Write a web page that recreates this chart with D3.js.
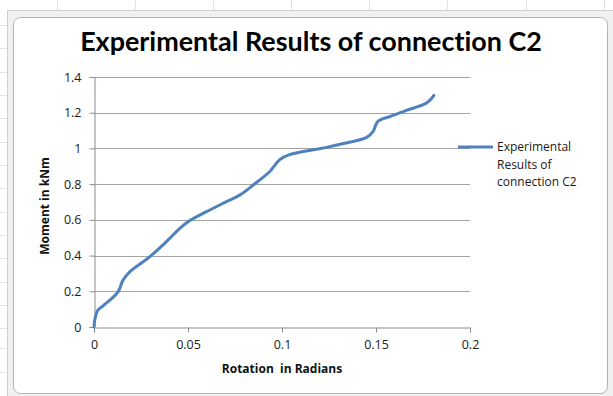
<!DOCTYPE html>
<html>
<head>
<meta charset="utf-8">
<script src="https://cdn.jsdelivr.net/npm/d3@7"></script>
<style>
  html, body { margin: 0; padding: 0; background: #ffffff; }
  svg { display: block; }
  text { font-variant-ligatures: none; }
</style>
</head>
<body>
<svg id="chart" width="613" height="396"></svg>
<script>
// Measured moment–rotation response of connection C2
const rotation = [0, 0.0004, 0.002, 0.005, 0.0128, 0.0154, 0.019, 0.0296, 0.0385, 0.0447,
                  0.05, 0.0598, 0.0705, 0.0777, 0.0847, 0.0935, 0.0988, 0.104, 0.1218,
                  0.134, 0.145, 0.1485, 0.151, 0.1577, 0.1665, 0.1763, 0.179, 0.1808];
const moment = [0, 0.038, 0.094, 0.12, 0.197, 0.262, 0.309, 0.393, 0.478, 0.543,
                0.590, 0.646, 0.702, 0.740, 0.795, 0.871, 0.937, 0.965, 1.002,
                1.030, 1.062, 1.096, 1.152, 1.18, 1.214, 1.251, 1.273, 1.297];
const xTicks = [0, 0.05, 0.1, 0.15, 0.2];
const yTicks = [0, 0.2, 0.4, 0.6, 0.8, 1, 1.2, 1.4];
const seriesName = ["Experimental", "Results of", "connection C2"];

const svg = d3.select("#chart");
const font = "'Open Sans', 'DejaVu Sans', sans-serif";

// worksheet grid peeking out around the chart object
const sheet = svg.append("g").attr("stroke", "#e2e2e2").attr("stroke-width", 1);
[57, 135, 213, 291, 369, 447, 526, 604].forEach(x =>
  sheet.append("line").attr("x1", x + 0.5).attr("x2", x + 0.5).attr("y1", 0).attr("y2", 10));
[25, 48, 72, 95, 118, 142, 165, 188, 212, 235, 258, 282, 305, 328, 348, 372].forEach(y =>
  sheet.append("line").attr("x1", 0).attr("x2", 7).attr("y1", y + 0.5).attr("y2", y + 0.5));

// chart object frame
svg.append("rect").attr("x", 7.5).attr("y", 10.5).attr("width", 610).attr("height", 390)
  .attr("fill", "#f0f0f0").attr("stroke", "#cfcfcf");
svg.append("rect").attr("x", 13.5).attr("y", 17.5).attr("width", 594).attr("height", 376)
  .attr("rx", 7).attr("fill", "#ffffff").attr("stroke", "#b4b4b4");

// plot area
const x = d3.scaleLinear().domain([0, 0.2]).range([94, 470]);
const y = d3.scaleLinear().domain([0, 1.4]).range([327, 77]);

// horizontal gridlines
svg.append("g")
  .selectAll("line").data(yTicks.filter(d => d > 0)).join("line")
  .attr("x1", x(0)).attr("x2", x(0.2))
  .attr("y1", d => Math.round(y(d)) + 0.5).attr("y2", d => Math.round(y(d)) + 0.5)
  .attr("stroke", "#a3a3a3").attr("stroke-width", 1);

// axes
const xAxis = svg.append("g")
  .attr("transform", `translate(0,${Math.round(y(0)) + 0.5})`)
  .call(d3.axisBottom(x).tickValues(xTicks).tickSize(5).tickPadding(8)
    .tickFormat(d => d3.format("~g")(d)));
const yAxis = svg.append("g")
  .attr("transform", `translate(${Math.round(x(0)) + 0.5},0)`)
  .call(d3.axisLeft(y).tickValues(yTicks).tickSize(5).tickPadding(8)
    .tickFormat(d => d3.format("~g")(d)));

[xAxis, yAxis].forEach(g => {
  g.select(".domain").attr("stroke", "#8c8c8c");
  g.selectAll(".tick line").attr("stroke", "#8c8c8c");
  g.selectAll(".tick text").attr("fill", "#1a1a1a")
    .style("font-family", font).style("font-size", "12.5px");
});

// data line
const line = d3.line()
  .x((d, i) => x(rotation[i]))
  .y(d => y(d))
  .curve(d3.curveCatmullRom.alpha(0.5));
svg.append("path").datum(moment)
  .attr("d", line)
  .attr("fill", "none")
  .attr("stroke", "#4f81bd")
  .attr("stroke-width", 3)
  .attr("stroke-linecap", "round")
  .attr("stroke-linejoin", "round");

// title, sized to its measured span
const title = svg.append("text")
  .attr("x", 311).attr("y", 51)
  .attr("text-anchor", "middle")
  .style("font-family", "Lato, 'Open Sans', sans-serif")
  .style("font-weight", "bold")
  .style("font-size", "24px")
  .attr("fill", "#000000")
  .text("Experimental Results of connection C2");
const tw = title.node().getComputedTextLength();
title.style("font-size", (24 * 462 / tw).toFixed(2) + "px");

// axis titles
svg.append("text")
  .attr("x", 282).attr("y", 373)
  .attr("text-anchor", "middle")
  .style("font-family", font).style("font-weight", "bold").style("font-size", "12px")
  .attr("fill", "#111")
  .attr("xml:space", "preserve")
  .text("Rotation  in Radians");
svg.append("text")
  .attr("transform", "translate(49,206) rotate(-90)")
  .attr("text-anchor", "middle")
  .style("font-family", font).style("font-weight", "bold").style("font-size", "12px")
  .attr("fill", "#111")
  .text("Moment in kNm");

// legend
const legend = svg.append("g");
legend.append("line")
  .attr("x1", 458).attr("x2", 493).attr("y1", 147).attr("y2", 147)
  .attr("stroke", "#4f81bd").attr("stroke-width", 3);
legend.selectAll("text").data(seriesName).join("text")
  .attr("x", 497).attr("y", (d, i) => 151 + i * 17.6)
  .style("font-family", font).style("font-size", "12px")
  .attr("fill", "#1a1a1a")
  .text(d => d);
</script>
</body>
</html>
